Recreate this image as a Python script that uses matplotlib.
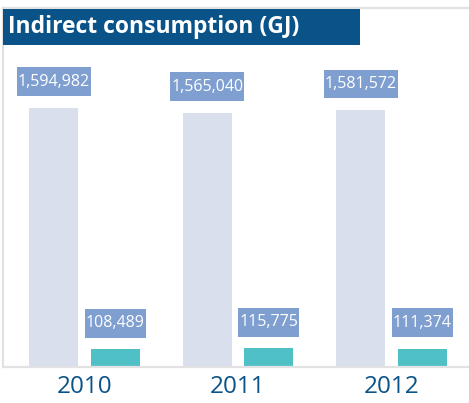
import matplotlib
matplotlib.use("Agg")
import matplotlib.pyplot as plt
from matplotlib.patches import Rectangle
from matplotlib.path import Path

# Dati
years = ["2010", "2011", "2012"]
indirect_total = [1594982, 1565040, 1581572]
indirect_other = [108489, 115775, 111374]

# Colori
BLUE_DARK = "#0A5389"
BAR_LIGHT = "#D9DFEC"
BAR_TEAL = "#4FC0C6"
LABEL_BG = "#809FD1"
FRAME = "#E2E2E2"

plt.rcParams["font.family"] = ["Open Sans", "DejaVu Sans"]


def label_box(x0, y0, width, height, mutation_size):
    # riquadro stretto in orizzontale, alto in verticale
    px, py = 0.06 * mutation_size, 0.4 * mutation_size
    verts = [(x0 - px, y0 - py), (x0 + width + px, y0 - py),
             (x0 + width + px, y0 + height + py), (x0 - px, y0 + height + py),
             (x0 - px, y0 - py)]
    return Path(verts, closed=True)


W, H = 469, 403
fig = plt.figure(figsize=(W / 100, H / 100), dpi=100)
ax = fig.add_axes([3 / W, 36 / H, 466 / W, 359 / H])

x = list(range(len(years)))
off = 0.2
bw = 0.32
ax.bar([i - off for i in x], indirect_total, width=bw, color=BAR_LIGHT, zorder=2)
ax.bar([i + off for i in x], indirect_other, width=bw, color=BAR_TEAL, zorder=2)

for i in x:
    for xx, v in ((i - off, indirect_total[i]), (i + off, indirect_other[i])):
        ax.annotate(f"{v:,}", xy=(xx, v), xytext=(0, 13), textcoords="offset points",
                    ha="center", va="bottom", color="white", fontsize=11.5,
                    bbox=dict(boxstyle=label_box, facecolor=LABEL_BG, edgecolor="none"),
                    zorder=3)

ax.set_xlim(-0.531, 2.505)
ax.set_ylim(0, 2210000)
ax.set_xticks(x)
ax.set_xticklabels(years, fontsize=17.5, color=BLUE_DARK)
ax.tick_params(axis="x", length=0, pad=6)
ax.set_yticks([])

for s in ("top", "left", "bottom"):
    ax.spines[s].set_color(FRAME)
    ax.spines[s].set_linewidth(1.6)
ax.spines["right"].set_visible(False)

# Titolo in riquadro blu
fig.patches.append(Rectangle((3 / W, (H - 45) / H), 357 / W, 36 / H,
                             transform=fig.transFigure, facecolor=BLUE_DARK,
                             edgecolor="none", zorder=5))
fig.text(8 / W, (H - 27) / H, "Indirect consumption (GJ)", color="white",
         fontsize=16.5, fontweight="bold", ha="left", va="center", zorder=6)

fig.savefig("out.png", dpi=100, facecolor="white")
